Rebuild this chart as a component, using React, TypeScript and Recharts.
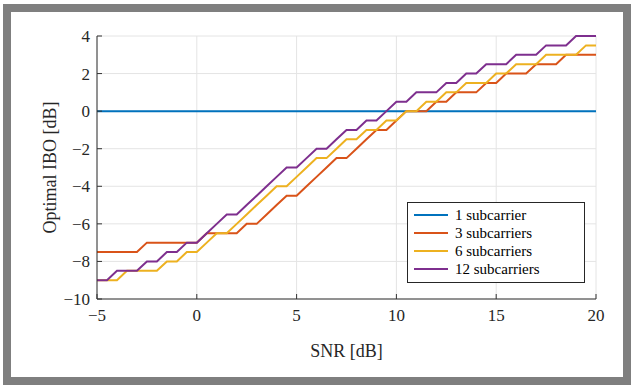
import React from 'react';
import { LineChart, Line, XAxis, YAxis, CartesianGrid, Legend, Label } from 'recharts';

// SNR grid [dB]
const snr = [
  -5, -4.5, -4, -3.5, -3, -2.5, -2, -1.5, -1, -0.5,
  0, 0.5, 1, 1.5, 2, 2.5, 3, 3.5, 4, 4.5,
  5, 5.5, 6, 6.5, 7, 7.5, 8, 8.5, 9, 9.5,
  10, 10.5, 11, 11.5, 12, 12.5, 13, 13.5, 14, 14.5,
  15, 15.5, 16, 16.5, 17, 17.5, 18, 18.5, 19, 19.5, 20,
];

// Optimal IBO [dB] per number of subcarriers
const ibo1 = [
  0, 0, 0, 0, 0, 0, 0, 0, 0, 0,
  0, 0, 0, 0, 0, 0, 0, 0, 0, 0,
  0, 0, 0, 0, 0, 0, 0, 0, 0, 0,
  0, 0, 0, 0, 0, 0, 0, 0, 0, 0,
  0, 0, 0, 0, 0, 0, 0, 0, 0, 0, 0,
];
const ibo3 = [
  -7.5, -7.5, -7.5, -7.5, -7.5, -7, -7, -7, -7, -7,
  -7, -6.5, -6.5, -6.5, -6.5, -6, -6, -5.5, -5, -4.5,
  -4.5, -4, -3.5, -3, -2.5, -2.5, -2, -1.5, -1, -1,
  -0.5, 0, 0, 0, 0.5, 0.5, 1, 1, 1, 1.5,
  1.5, 2, 2, 2, 2.5, 2.5, 2.5, 3, 3, 3, 3,
];
const ibo6 = [
  -9, -9, -9, -8.5, -8.5, -8.5, -8.5, -8, -8, -7.5,
  -7.5, -7, -6.5, -6.5, -6, -5.5, -5, -4.5, -4, -4,
  -3.5, -3, -2.5, -2.5, -2, -1.5, -1.5, -1, -1, -0.5,
  -0.5, 0, 0, 0.5, 0.5, 1, 1, 1.5, 1.5, 1.5,
  2, 2, 2.5, 2.5, 2.5, 3, 3, 3, 3, 3.5, 3.5,
];
const ibo12 = [
  -9, -9, -8.5, -8.5, -8.5, -8, -8, -7.5, -7.5, -7,
  -7, -6.5, -6, -5.5, -5.5, -5, -4.5, -4, -3.5, -3,
  -3, -2.5, -2, -2, -1.5, -1, -1, -0.5, -0.5, 0,
  0.5, 0.5, 1, 1, 1, 1.5, 1.5, 2, 2, 2.5,
  2.5, 2.5, 3, 3, 3, 3.5, 3.5, 3.5, 4, 4, 4,
];

const xTicks = [-5, 0, 5, 10, 15, 20];
const yTicks = [-10, -8, -6, -4, -2, 0, 2, 4];

const series = [
  { key: 'ibo1', name: '1 subcarrier', color: '#0072BD' },
  { key: 'ibo3', name: '3 subcarriers', color: '#D95319' },
  { key: 'ibo6', name: '6 subcarriers', color: '#EDB120' },
  { key: 'ibo12', name: '12 subcarriers', color: '#7E2F8E' },
];

const data = snr.map((s, i) => ({
  snr: s,
  ibo1: ibo1[i],
  ibo3: ibo3[i],
  ibo6: ibo6[i],
  ibo12: ibo12[i],
}));

const FONT = '"Liberation Serif", "Times New Roman", serif';
const AXIS = '#333333';
const fmt = (v: number) => String(v).replace('-', '\u2212');

const renderLegend = () => (
  <div
    style={{
      border: '1px solid #262626',
      background: '#fff',
      padding: '3px 6px',
      width: 178,
      height: 81,
      boxSizing: 'border-box',
      fontFamily: FONT,
      fontSize: 15,
      color: '#000',
    }}
  >
    {series.map(s => (
      <div key={s.key} style={{ display: 'flex', alignItems: 'center', height: 18 }}>
        <span style={{ width: 34, height: 0, borderTop: `2px solid ${s.color}`, marginRight: 7 }} />
        <span>{s.name}</span>
      </div>
    ))}
  </div>
);

export default function App() {
  return (
    <div
      style={{
        position: 'fixed',
        left: 0,
        top: 0,
        width: 634,
        height: 385,
        background: '#fff',
        fontFamily: FONT,
      }}
    >
      {/* gray frame round the figure */}
      <div
        style={{
          position: 'absolute',
          left: 3,
          top: 4,
          width: 628,
          height: 381,
          border: '8px solid #7f7f7f',
          boxSizing: 'border-box',
        }}
      />
      <div style={{ position: 'absolute', left: 0, top: 0 }}>
        <LineChart
          width={634}
          height={385}
          data={data}
          margin={{ top: 36, right: 38, bottom: 56, left: 37 }}
          style={{ fontFamily: FONT }}
        >
          <CartesianGrid stroke="#e4e4e4" />
          <XAxis
            dataKey="snr"
            type="number"
            domain={[-5, 20]}
            ticks={xTicks}
            tickFormatter={fmt}
            height={30}
            stroke={AXIS}
            tickSize={-5}
            tickMargin={15}
            tick={{ fill: '#262626', fontSize: 17, fontFamily: FONT }}
          >
            <Label value="SNR [dB]" position="bottom" offset={15} fill="#262626" fontSize={18} fontFamily={FONT} />
          </XAxis>
          <XAxis
            xAxisId="top"
            orientation="top"
            dataKey="snr"
            type="number"
            domain={[-5, 20]}
            ticks={xTicks}
            height={0}
            stroke={AXIS}
            tickSize={-5}
            tick={false}
          />
          <YAxis
            type="number"
            domain={[-10, 4]}
            ticks={yTicks}
            tickFormatter={fmt}
            width={60}
            stroke={AXIS}
            tickSize={-5}
            tickMargin={12}
            tick={{ fill: '#262626', fontSize: 17, fontFamily: FONT }}
          >
            <Label
              value="Optimal IBO [dB]"
              angle={-90}
              position="center"
              dx={-17}
              fill="#262626"
              fontSize={18}
              fontFamily={FONT}
            />
          </YAxis>
          <YAxis
            yAxisId="right"
            orientation="right"
            type="number"
            domain={[-10, 4]}
            ticks={yTicks}
            width={0}
            stroke={AXIS}
            tickSize={-5}
            tick={false}
          />
          {series.map(s => (
            <Line
              key={s.key}
              dataKey={s.key}
              name={s.name}
              stroke={s.color}
              strokeWidth={2}
              dot={false}
              type="linear"
              isAnimationActive={false}
            />
          ))}
          <Legend
            layout="vertical"
            align="center"
            verticalAlign="middle"
            content={renderLegend}
            wrapperStyle={{ left: 407, top: 202, width: 178, height: 81 }}
          />
        </LineChart>
      </div>
    </div>
  );
}
